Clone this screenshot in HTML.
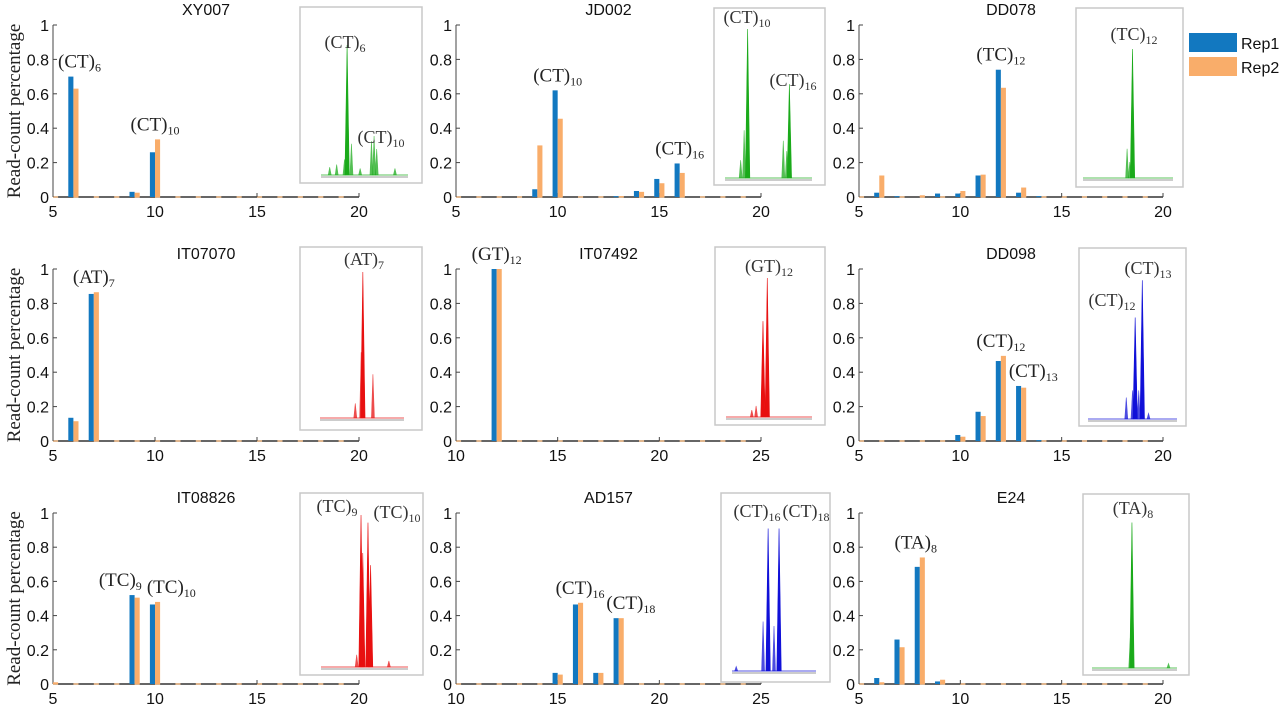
<!DOCTYPE html>
<html><head><meta charset="utf-8">
<style>
body{margin:0;background:#fff;}
svg{display:block;}
.tk{font-family:"Liberation Sans",sans-serif;font-size:16px;fill:#111;}
.ttl{font-family:"Liberation Sans",sans-serif;font-size:16px;fill:#111;}
.ann{font-family:"Liberation Serif",serif;font-size:19px;fill:#222;}
.iann{font-family:"Liberation Serif",serif;font-size:18px;fill:#333;}
</style></head>
<body>
<svg id="fig" width="1280" height="707" viewBox="0 0 1280 707" xmlns="http://www.w3.org/2000/svg"></svg>
<script>
// ---- data (x = repeat count, values = read-count fraction) ----
const titles = ["XY007","JD002","DD078","IT07070","IT07492","DD098","IT08826","AD157","E24"];
const xRanges = [[5,20],[5,20],[5,20],[5,20],[10,25],[5,20],[5,20],[10,25],[5,20]];
const xTicks = [[5,10,15,20],[5,10,15,20],[5,10,15,20],[5,10,15,20],[10,15,20,25],[5,10,15,20],[5,10,15,20],[10,15,20,25],[5,10,15,20]];
const yTicks = [0,0.2,0.4,0.6,0.8,1];
const yTickLabels = ["0","0.2","0.4","0.6","0.8","1"];
const rep1X = [[6,9,10],[9,10,13,14,15,16],[6,7,9,10,11,12,13,14],[6,7],[12],[10,11,12,13,14],[9,10],[15,16,17,18],[6,7,8,9]];
const rep1V = [[0.70,0.03,0.26],[0.045,0.62,0.005,0.035,0.105,0.195],[0.025,0.005,0.02,0.02,0.125,0.74,0.025,0.005],[0.135,0.855],[1.0],[0.035,0.17,0.465,0.32,0.005],[0.52,0.465],[0.065,0.465,0.065,0.385],[0.035,0.26,0.685,0.015]];
const rep2X = [[6,9,10],[9,10,13,14,15,16],[6,8,10,11,12,13],[6,7],[12],[10,11,12,13],[5,9,10],[15,16,17,18],[6,7,8,9]];
const rep2V = [[0.63,0.025,0.335],[0.30,0.455,0.005,0.03,0.08,0.14],[0.125,0.01,0.035,0.13,0.635,0.055],[0.115,0.865],[1.0],[0.025,0.145,0.495,0.31],[0.01,0.505,0.48],[0.055,0.475,0.065,0.385],[0.01,0.215,0.74,0.025]];
// annotations: [motif, subscript, x position, y value]
const annText = [[["CT","6",6.3,0.70],["CT","10",10.0,0.335]],[["CT","10",10.0,0.62],["CT","16",16.0,0.195]],[["TC","12",12.0,0.74]],[["AT","7",7.0,0.865]],[["GT","12",12.0,1.0]],[["CT","12",12.0,0.495],["CT","13",13.6,0.32]],[["TC","9",8.3,0.52],["TC","10",10.8,0.48]],[["CT","16",16.1,0.475],["CT","18",18.6,0.385]],[["TA","8",7.8,0.74]]];
// inset electropherogram peaks: [relative position 0..1, relative height 0..1]
const peaks = [
 [[0.30,1.0],[0.27,0.12],[0.35,0.24],[0.58,0.26],[0.61,0.30],[0.64,0.20],[0.10,0.06],[0.18,0.08],[0.45,0.05],[0.85,0.05]],
 [[0.26,1.0],[0.22,0.32],[0.18,0.12],[0.74,0.63],[0.67,0.25],[0.71,0.18]],
 [[0.55,0.97],[0.49,0.22],[0.52,0.12]],
 [[0.51,1.0],[0.49,0.45],[0.63,0.30],[0.42,0.10]],
 [[0.48,1.0],[0.43,0.69],[0.35,0.08],[0.30,0.05]],
 [[0.53,0.71],[0.61,0.97],[0.43,0.15],[0.50,0.20],[0.57,0.20],[0.68,0.04]],
 [[0.46,1.0],[0.48,0.75],[0.54,0.95],[0.57,0.67],[0.41,0.08],[0.78,0.04]],
 [[0.43,0.95],[0.56,0.95],[0.37,0.33],[0.50,0.30],[0.05,0.03]],
 [[0.47,0.97],[0.45,0.20],[0.90,0.03]]
];
const insetLabels = [
 [["CT","6",345,48],["CT","10",381,143]],
 [["CT","10",747,23],["CT","16",793,86]],
 [["TC","12",1134,40]],
 [["AT","7",364,265]],
 [["GT","12",769,272]],
 [["CT","13",1148,274],["CT","12",1112,306]],
 [["TC","9",337,512],["TC","10",397,518]],
 [["CT","16",757,517],["CT","18",806,517]],
 [["TA","8",1133,514]]
];
const insetColors = ["#1aaa1a","#1aaa1a","#1aaa1a","#e81010","#e81010","#1010d8","#e81010","#1010d8","#1aaa1a"];

// ---- layout ----
const axLeft=[53,456,859], axRight=[359,761,1163];
const rowY0=[197,441,684], rowY1=[25,269,513];
const insetBox=[[300,7,122,176],[714,8,111,177],[1076,8,107,179],[300,247,122,183],[715,247,110,178],[1079,248,107,178],[300,493,123,182],[721,493,109,189],[1083,494,106,181]];
const traceSpan=[[321,408,175,130],[725,812,178,149],[1083,1173,178,133],[320,404,418,146],[726,812,417,139],[1088,1177,419,143],[321,408,667,152],[732,816,671,150],[1092,1177,668,150]];

const NS="http://www.w3.org/2000/svg";
const svg=document.getElementById('fig');
function mk(tag,attrs,parent){const e=document.createElementNS(NS,tag);for(const k in attrs)e.setAttribute(k,attrs[k]);(parent||svg).appendChild(e);return e;}
function motif(parent,cls,m,sub,x,y,anchor){
  const t=mk('text',{x:x,y:y,'class':cls,'text-anchor':anchor||'middle'},parent);
  
  
  const a=document.createElementNS(NS,'tspan');a.textContent='('+m+')';t.appendChild(a);
  const b=document.createElementNS(NS,'tspan');b.setAttribute('dy','4');b.setAttribute('font-size','12');b.textContent=sub;t.appendChild(b);
  return t;
}

// y-axis titles
for(let r=0;r<3;r++){
  const cy=(rowY0[r]+rowY1[r])/2;
  const t=mk('text',{x:0,y:0,'class':'ann','font-size':'18','text-anchor':'middle',transform:`translate(20,${cy}) rotate(-90)`});
  
  
  t.setAttribute('xml:space','preserve');
  t.textContent='Read-count  percentage';
}

for(let p=0;p<9;p++){
  const r=Math.floor(p/3), c=p%3;
  const g=mk('g',{});
  
  
  const [xmin,xmax]=xRanges[p];
  const L=axLeft[c],R=axRight[c],Y0=rowY0[r],Y1=rowY1[r];
  const xs=v=>L+(v-xmin)/(xmax-xmin)*(R-L);
  const ys=v=>Y0-v*(Y0-Y1);
  const bw=(R-L)/(xmax-xmin)*0.25;
  const tt=mk('text',{x:(L+R)/2,y:Y1-10,'class':'ttl','text-anchor':'middle'},g);
  
  
  tt.textContent=titles[p];
  const ya=mk('line',{x1:L,y1:Y0,x2:L,y2:Y1,stroke:'#444','stroke-width':1},g);
  
  
  yTicks.forEach((v,i)=>{
    mk('line',{x1:L,y1:ys(v),x2:L+4,y2:ys(v),stroke:'#444'},g);
    const t=mk('text',{x:L-4,y:ys(v)+6,'class':'tk','text-anchor':'end'},g);
    
    
    t.textContent=yTickLabels[i];
  });
  const xa=mk('line',{x1:L,y1:Y0,x2:R,y2:Y0,stroke:'#333','stroke-width':1.5},g);
  
  
  for(let k=xmin;k<xmax;k++){
    mk('line',{x1:xs(k),y1:Y0,x2:xs(k)+bw,y2:Y0,stroke:'#f9c08a','stroke-width':1.5},g);
  }
  xTicks[p].forEach(v=>{
    mk('line',{x1:xs(v),y1:Y0,x2:xs(v),y2:Y0-4,stroke:'#444'},g);
    const t=mk('text',{x:xs(v),y:Y0+20,'class':'tk','text-anchor':'middle'},g);
    
    
    t.textContent=String(v);
  });
  rep1X[p].forEach((x,i)=>{
    const v=rep1V[p][i];
    const b=mk('rect',{x:xs(x)-bw,y:ys(v),width:bw,height:Math.max(Y0-ys(v),1),fill:'#1278c0'},g);
    
    
  });
  rep2X[p].forEach((x,i)=>{
    const v=rep2V[p][i];
    const b=mk('rect',{x:xs(x),y:ys(v),width:bw,height:Math.max(Y0-ys(v),1),fill:'#f9ad6a'},g);
    
    
  });
  annText[p].forEach(a=>motif(g,'ann',a[0],a[1],xs(a[2]),ys(a[3])-9));
  const [bx,by,bwid,bh]=insetBox[p];
  const ib=mk('rect',{x:bx,y:by,width:bwid,height:bh,fill:'#fff',stroke:'#c8c8c8','stroke-width':1.5},g);
  
  
  const [tx0,tx1,tb,th]=traceSpan[p];
  const col=insetColors[p];
  mk('line',{x1:tx0,y1:tb+2,x2:tx1,y2:tb+2,stroke:'#999','stroke-width':1},g);
  mk('line',{x1:tx0,y1:tb,x2:tx1,y2:tb,stroke:col,'stroke-width':1,opacity:0.7},g);
  peaks[p].forEach(pk=>{
    const px=tx0+pk[0]*(tx1-tx0), top=tb-pk[1]*th;
    const hw=pk[1]>0.5?2.2:1.5;
    const pe=mk('polygon',{points:`${px-hw},${tb} ${px},${top} ${px+hw},${tb}`,fill:col,stroke:col,'stroke-width':0.6,opacity:pk[1]>0.5?1:0.75},g);
    
    
  });
  insetLabels[p].forEach(a=>motif(g,'iann',a[0],a[1],a[2],a[3]));
}

const lg=mk('g',{});


const l1=mk('rect',{x:1189,y:33,width:48,height:19,fill:'#1278c0'},lg);


const l2=mk('rect',{x:1189,y:57,width:48,height:19,fill:'#f9ad6a'},lg);


const t1=mk('text',{x:1241,y:49,'class':'ttl','font-size':'17'},lg);t1.textContent='Rep1';


const t2=mk('text',{x:1241,y:73,'class':'ttl','font-size':'17'},lg);t2.textContent='Rep2';


</script>
</body></html>
